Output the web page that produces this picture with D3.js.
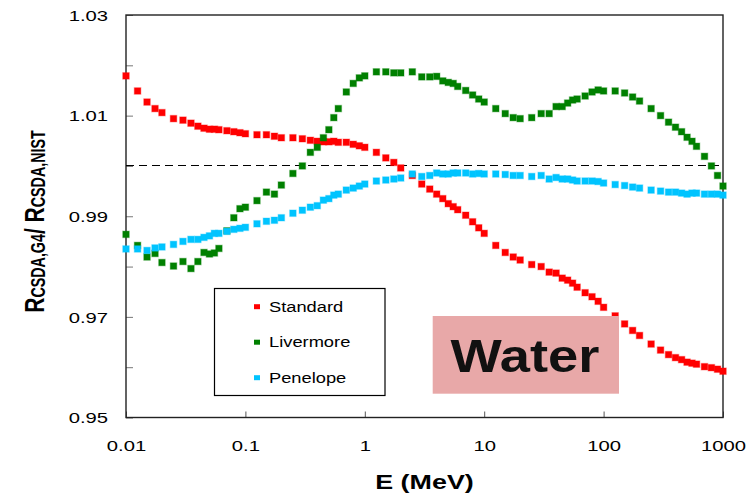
<!DOCTYPE html>
<html>
<head>
<meta charset="utf-8">
<script src="https://cdn.jsdelivr.net/npm/d3@7"></script>
<style>
  body { margin: 0; background: #fff; }
  text { font-family: "Liberation Sans", Arial, sans-serif; }
</style>
</head>
<body>
<div id="container"></div>
<script>
// energy grid (MeV), shared by all three models
const energies = [
  0.01, 0.0125, 0.015, 0.0175, 0.02, 0.025, 0.03, 0.035, 0.04, 0.045, 0.05, 0.055, 0.06, 0.07, 0.08, 0.09,
  0.1, 0.125, 0.15, 0.175, 0.2, 0.25, 0.3, 0.35, 0.4, 0.45, 0.5, 0.55, 0.6, 0.7, 0.8, 0.9,
  1, 1.25, 1.5, 1.75, 2, 2.5, 3, 3.5, 4, 4.5, 5, 5.5, 6, 7, 8, 9,
  10, 12.5, 15, 17.5, 20, 25, 30, 35, 40, 45, 50, 55, 60, 70, 80, 90,
  100, 125, 150, 175, 200, 250, 300, 350, 400, 450, 500, 550, 600, 700, 800, 900, 1000
];

const standard = [
  1.0179, 1.0149, 1.0127, 1.0114, 1.0106, 1.0094, 1.0091, 1.0085, 1.0079, 1.0075, 1.0073, 1.0073, 1.0072, 1.0070, 1.0068, 1.0066,
  1.0064, 1.0062, 1.0062, 1.0059, 1.0056, 1.0056, 1.0054, 1.0051, 1.0049, 1.0048, 1.0048, 1.0049, 1.0047, 1.0047, 1.0043, 1.0040,
  1.0037, 1.0027, 1.0016, 1.0007, 0.9996, 0.9981, 0.9964, 0.9954, 0.9944, 0.9935, 0.9925, 0.9919, 0.9913, 0.9902, 0.9889, 0.9877,
  0.9866, 0.9842, 0.9828, 0.9819, 0.9813, 0.9804, 0.9800, 0.9789, 0.9787, 0.9777, 0.9773, 0.9767, 0.9759, 0.9748, 0.9740, 0.9731,
  0.9719, 0.9702, 0.9686, 0.9673, 0.9663, 0.9646, 0.9634, 0.9625, 0.9619, 0.9615, 0.9610, 0.9608, 0.9606, 0.9601, 0.9599, 0.9596, 0.9592
];

const livermore = [
  0.9864, 0.9842, 0.9819, 0.9826, 0.9808, 0.9801, 0.9810, 0.9796, 0.9810, 0.9828, 0.9825, 0.9827, 0.9836, 0.9871, 0.9897, 0.9915,
  0.9918, 0.9931, 0.9948, 0.9944, 0.9962, 0.9985, 1.0000, 1.0027, 1.0037, 1.0056, 1.0072, 1.0096, 1.0114, 1.0147, 1.0164, 1.0175,
  1.0179, 1.0187, 1.0187, 1.0185, 1.0185, 1.0187, 1.0177, 1.0177, 1.0178, 1.0169, 1.0166, 1.0164, 1.0158, 1.0150, 1.0141, 1.0133,
  1.0127, 1.0114, 1.0104, 1.0096, 1.0094, 1.0096, 1.0104, 1.0104, 1.0118, 1.0118, 1.0125, 1.0131, 1.0133, 1.0139, 1.0147, 1.0151,
  1.0149, 1.0149, 1.0145, 1.0137, 1.0129, 1.0114, 1.0100, 1.0087, 1.0077, 1.0068, 1.0057, 1.0049, 1.0039, 1.0019, 1.0000, 0.9981, 0.9960
];

const penelope = [
  0.9835, 0.9835, 0.9832, 0.9837, 0.9839, 0.9844, 0.9850, 0.9854, 0.9854, 0.9858, 0.9861, 0.9866, 0.9866, 0.9870, 0.9874, 0.9876,
  0.9878, 0.9885, 0.9890, 0.9892, 0.9897, 0.9906, 0.9912, 0.9918, 0.9921, 0.9932, 0.9935, 0.9942, 0.9944, 0.9952, 0.9956, 0.9960,
  0.9964, 0.9970, 0.9972, 0.9974, 0.9976, 0.9984, 0.9979, 0.9981, 0.9986, 0.9984, 0.9984, 0.9986, 0.9986, 0.9986, 0.9984, 0.9985,
  0.9984, 0.9984, 0.9983, 0.9981, 0.9981, 0.9979, 0.9981, 0.9974, 0.9977, 0.9974, 0.9974, 0.9972, 0.9970, 0.9970, 0.9970, 0.9969,
  0.9966, 0.9963, 0.9961, 0.9958, 0.9956, 0.9952, 0.9950, 0.9948, 0.9948, 0.9946, 0.9944, 0.9946, 0.9946, 0.9944, 0.9944, 0.9944, 0.9942
];

const seriesNames = ["Standard", "Livermore", "Penelope"];
const seriesColors = ["#ff0000", "#008000", "#00c4ff"];
const xTicks = [0.01, 0.1, 1, 10, 100, 1000];
const yTicks = [0.95, 0.96, 0.97, 0.98, 0.99, 1.00, 1.01, 1.02, 1.03];
const yLabelled = [0.95, 0.97, 0.99, 1.01, 1.03];

function drawChart() {
  const width = 748;
  const height = 496;
  const left = 126, right = 723, top = 15, bottom = 417.5;
  const stretch = 1.35; // the original picture is wider than it is tall

  const x = d3.scaleLog().domain([0.01, 1000]).range([left, right]);
  const y = d3.scaleLinear().domain([0.95, 1.03]).range([bottom, top]);

  const svg = d3.select("#container")
    .append("svg")
    .attr("width", width)
    .attr("height", height);

  // y axis, ticks pointing inwards
  const yAxis = svg.append("g")
    .attr("transform", `translate(${left},0)`)
    .call(d3.axisLeft(y)
      .tickValues(yTicks)
      .tickSize(-7)
      .tickFormat(d => yLabelled.some(v => Math.abs(v - d) < 1e-6) ? d3.format(".2f")(d) : ""));
  yAxis.select(".domain").remove();
  yAxis.selectAll(".tick line").attr("stroke", "#777");
  yAxis.selectAll(".tick text")
    .attr("x", 0)
    .attr("dy", "0.35em")
    .attr("font-size", 15)
    .attr("fill", "#000")
    .attr("transform", `translate(-18,0) scale(${stretch},1)`);

  // x axis
  const xAxis = svg.append("g")
    .attr("transform", `translate(0,${bottom})`)
    .call(d3.axisBottom(x)
      .tickValues(xTicks)
      .tickSize(-6)
      .tickFormat(d => String(d)));
  xAxis.select(".domain").remove();
  xAxis.selectAll(".tick line").attr("stroke", "#555");
  xAxis.selectAll(".tick text")
    .attr("y", 0)
    .attr("dy", 0)
    .attr("font-size", 15)
    .attr("fill", "#000")
    .attr("transform", `translate(0,33.5) scale(${stretch},1)`);

  // plot frame
  svg.append("rect")
    .attr("x", left)
    .attr("y", top)
    .attr("width", right - left)
    .attr("height", bottom - top)
    .attr("fill", "none")
    .attr("stroke", "#222")
    .attr("stroke-width", 1.4);

  // reference line at ratio 1
  svg.append("line")
    .attr("x1", left)
    .attr("x2", right)
    .attr("y1", y(1))
    .attr("y2", y(1))
    .attr("stroke", "#000")
    .attr("stroke-width", 1)
    .attr("shape-rendering", "crispEdges")
    .attr("stroke-dasharray", "8,5");

  // markers
  const series = [standard, livermore, penelope];
  const s = 6.5;
  series.forEach((vals, k) => {
    svg.append("g")
      .selectAll("rect")
      .data(energies.map((e, i) => [e, vals[i]]))
      .join("rect")
      .attr("x", d => x(d[0]) - s / 2)
      .attr("y", d => y(d[1]) - s / 2)
      .attr("width", s)
      .attr("height", s)
      .attr("fill", seriesColors[k])
      .attr("stroke", seriesColors[k])
      .attr("stroke-opacity", 0.3)
      .attr("stroke-width", 1.2);
  });

  // axis titles
  svg.append("text")
    .attr("text-anchor", "middle")
    .attr("font-size", 21)
    .attr("font-weight", "bold")
    .attr("transform", `translate(424.5,489) scale(1.28,1)`)
    .text("E (MeV)");

  const yTitle = svg.append("text")
    .attr("text-anchor", "middle")
    .attr("font-size", 21)
    .attr("font-weight", "bold")
    .attr("transform", `translate(43.5,221.5) scale(${stretch},1) rotate(-90)`);
  yTitle.append("tspan").text("R");
  yTitle.append("tspan").attr("font-size", 14.3).attr("dy", 1).text("CSDA,G4");
  yTitle.append("tspan").attr("dy", -1).text("/ R");
  yTitle.append("tspan").attr("font-size", 14.3).attr("dy", 1).text("CSDA,NIST");

  // legend
  const legend = svg.append("g");
  legend.append("rect")
    .attr("x", 214.5)
    .attr("y", 288.5)
    .attr("width", 170.5)
    .attr("height", 107)
    .attr("fill", "#fff")
    .attr("stroke", "#000")
    .attr("stroke-width", 1.2);
  const item = legend.selectAll(".item")
    .data(seriesNames)
    .join("g")
    .attr("class", "item")
    .attr("transform", (d, i) => `translate(0,${306.7 + i * 35.5})`);
  item.append("rect")
    .attr("x", 254)
    .attr("y", -2.5)
    .attr("width", 6)
    .attr("height", 5)
    .attr("fill", (d, i) => seriesColors[i]);
  item.append("text")
    .attr("font-size", 15)
    .attr("dy", "0.35em")
    .attr("transform", `translate(269,0) scale(1.22,1)`)
    .text(d => d);

  // material label
  svg.append("rect")
    .attr("x", 432.7)
    .attr("y", 316)
    .attr("width", 186.3)
    .attr("height", 77.7)
    .attr("fill", "#e8a8a8");
  svg.append("text")
    .attr("text-anchor", "middle")
    .attr("font-family", "Lato, 'Open Sans', sans-serif")
    .attr("font-weight", "bold")
    .attr("font-size", 46)
    .attr("fill", "#111")
    .attr("transform", "translate(525,371.7) scale(1.18,1)")
    .text("Water");
}

drawChart();
</script>
</body>
</html>
